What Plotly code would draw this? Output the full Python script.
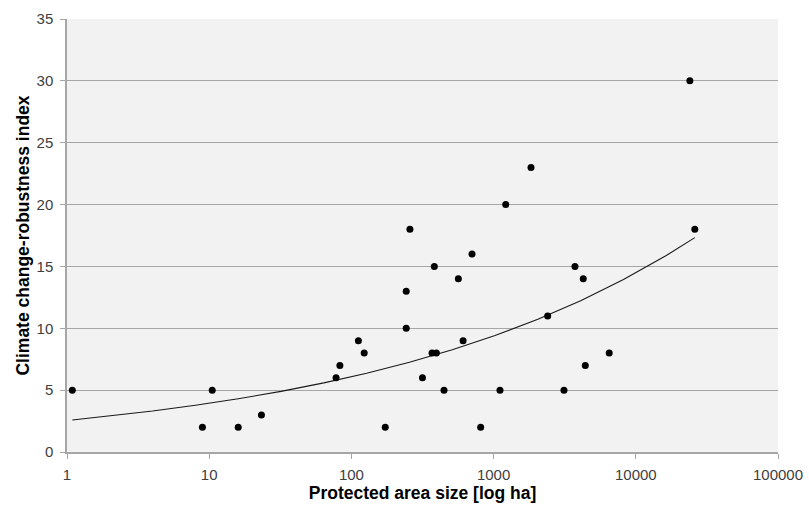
import plotly.graph_objects as go

# Data
area_ha = [1.09, 8.96, 10.5, 16, 23.3, 78, 83, 112, 123, 173, 243, 243, 258,
           316, 369, 396, 383, 448, 565, 610, 705, 811, 1109, 1217, 1833,
           2400, 3126, 3733, 4270, 4415, 6500, 24000, 26000]
robustness = [5, 2, 5, 2, 3, 6, 7, 9, 8, 2, 10, 13, 18,
              6, 8, 8, 15, 5, 14, 9, 16, 2, 5, 20, 23,
              11, 5, 15, 14, 7, 8, 30, 18]

# Power trendline y = a * x^b
trend_a = 2.55
trend_b = 0.1885
trend_x = [1.09, 2, 4, 8, 16, 32, 64, 128, 256, 512, 1024, 2048, 4096, 8192, 16384, 26000]
trend_y = [trend_a * x ** trend_b for x in trend_x]

x_ticks = [1, 10, 100, 1000, 10000, 100000]
x_tick_labels = ["1", "10", "100", "1000", "10000", "100000"]
y_ticks = [0, 5, 10, 15, 20, 25, 30, 35]

grid = "#a6a6a6"
font_family = "Liberation Sans, Arial, sans-serif"
tick_font = dict(family=font_family, size=15, color="#404040")
title_font = dict(family=font_family, size=17.5, color="black")

fig = go.Figure()
fig.add_trace(go.Scatter(x=trend_x, y=trend_y, mode="lines",
                         line=dict(color="#1a1a1a", width=1.1),
                         hoverinfo="skip", showlegend=False))
fig.add_trace(go.Scatter(x=area_ha, y=robustness, mode="markers",
                         marker=dict(color="black", size=7),
                         showlegend=False))

fig.update_layout(
    width=809, height=506,
    autosize=False,
    margin=dict(l=67, r=31, t=19, b=54, autoexpand=False),
    paper_bgcolor="white",
    plot_bgcolor="#f2f2f2",
    font=dict(family=font_family, size=15, color="#404040"),
    xaxis=dict(
        type="log", range=[0, 5], automargin=False,
        tickvals=x_ticks, ticktext=x_tick_labels, tickfont=tick_font,
        showgrid=False, zeroline=False,
        showline=True, linecolor=grid, linewidth=1.5,
        ticks="outside", ticklen=5, tickcolor=grid, tickwidth=1,
        ticklabelstandoff=3,
        title=dict(text="<b>Protected area size [log ha]</b>",
                   font=title_font, standoff=4),
    ),
    yaxis=dict(
        range=[0, 35], tickvals=y_ticks, tickfont=tick_font, automargin=False,
        showgrid=True, gridcolor=grid, gridwidth=1.2,
        zeroline=False,
        showline=True, linecolor=grid, linewidth=1.5,
        ticks="outside", ticklen=5, tickcolor=grid, tickwidth=1,
        ticklabelstandoff=4,
        title=dict(text="<b>Climate change-robustness index</b>",
                   font=title_font, standoff=2),
    ),
)

fig.write_html("out.html")
